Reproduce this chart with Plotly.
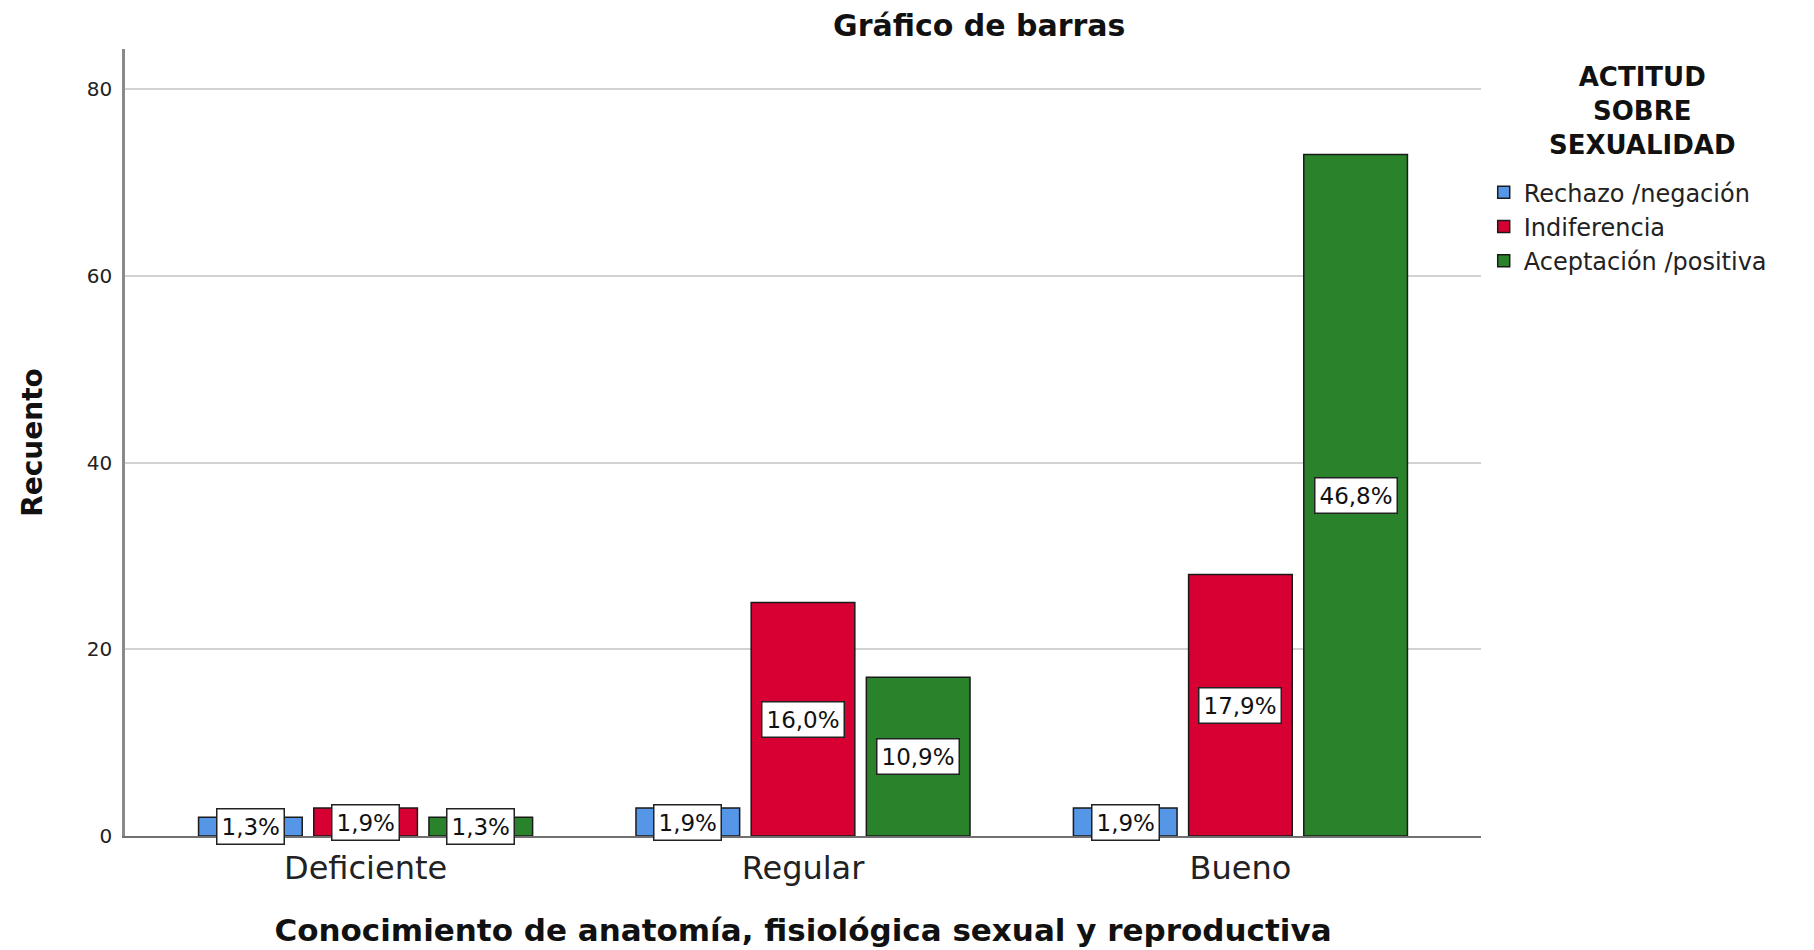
import plotly.graph_objects as go

# ---- data ----
categories = ["Deficiente", "Regular", "Bueno"]
series_names = ["Rechazo /negación", "Indiferencia", "Aceptación /positiva"]
rechazo = [2, 3, 3]
indiferencia = [3, 25, 28]
aceptacion = [2, 17, 73]
y_ticks = [0, 20, 40, 60, 80]
legend_title_lines = ["ACTITUD", "SOBRE", "SEXUALIDAD"]

colors = ["#5596E6", "#D60032", "#2A832A"]
FONT = "DejaVu Sans"
BARGAP = 0.21
BARGROUPGAP = 0.1

series = [rechazo, indiferencia, aceptacion]
total = sum(sum(s) for s in series)

fig = go.Figure()
for i, (name, vals) in enumerate(zip(series_names, series)):
    fig.add_trace(go.Bar(
        x=categories, y=vals, name=name,
        marker=dict(color=colors[i], line=dict(color="#1a1a1a", width=1.5)),
    ))

# percentage labels at mid-height of each bar
slot = (1 - BARGAP) / len(series)
annotations = []
for i, vals in enumerate(series):
    for j, v in enumerate(vals):
        pct = f"{100 * v / total:.1f}%".replace(".", ",")
        annotations.append(dict(
            x=j + (i - (len(series) - 1) / 2) * slot, y=v / 2,
            xref="x", yref="y", text=pct, showarrow=False,
            font=dict(family=FONT, size=23, color="#111111"),
            bgcolor="white", bordercolor="#222222", borderwidth=1.5, borderpad=4,
        ))

# legend title (single centred multi-line text)
annotations.append(dict(
    x=1.119, y=0.9212, xref="paper", yref="paper",
    text="<b>" + "<br>".join(legend_title_lines) + "</b>", showarrow=False,
    xanchor="center", yanchor="middle", align="center",
    font=dict(family=FONT, size=26, color="#111111"),
))

fig.update_layout(
    width=1814, height=950,
    margin=dict(l=117, r=341, t=41, b=122),
    paper_bgcolor="white", plot_bgcolor="white",
    barmode="group", bargap=BARGAP, bargroupgap=BARGROUPGAP,
    title=dict(text="<b>Gráfico de barras</b>", x=0.63, xref="paper", xanchor="center",
               y=1 - 17 / 950, yanchor="middle", yref="container",
               font=dict(family=FONT, size=30, color="#111111")),
    font=dict(family=FONT, color="#111111"),
    xaxis=dict(
        range=[-0.55, 2.55], showline=True, linecolor="#707070", linewidth=1.5,
        showgrid=False, ticks="", ticklabelstandoff=3,
        tickfont=dict(family=FONT, size=32, color="#222222"),
        title=dict(text="<b>Conocimiento de anatomía, fisiológica sexual y reproductiva</b>",
                   font=dict(family=FONT, size=31, color="#111111"), standoff=33),
        automargin=False,
    ),
    yaxis=dict(
        range=[0, 84.3], tickvals=y_ticks, showline=True, linecolor="#8a8a8a", linewidth=2.5,
        showgrid=True, gridcolor="#d2d2d2", gridwidth=2, zeroline=False,
        ticks="", ticklabelstandoff=6, tickfont=dict(family=FONT, size=20, color="#222222"),
        title=dict(text="<b>Recuento</b>", font=dict(family=FONT, size=28, color="#111111"),
                   standoff=36),
        automargin=False,
    ),
    legend=dict(
        x=1.002, y=0.846, xanchor="left", yanchor="top",
        font=dict(family=FONT, size=24, color="#222222"),
        bgcolor="rgba(0,0,0,0)",
    ),
    annotations=annotations,
    showlegend=True,
)

fig.write_html("out.html")
